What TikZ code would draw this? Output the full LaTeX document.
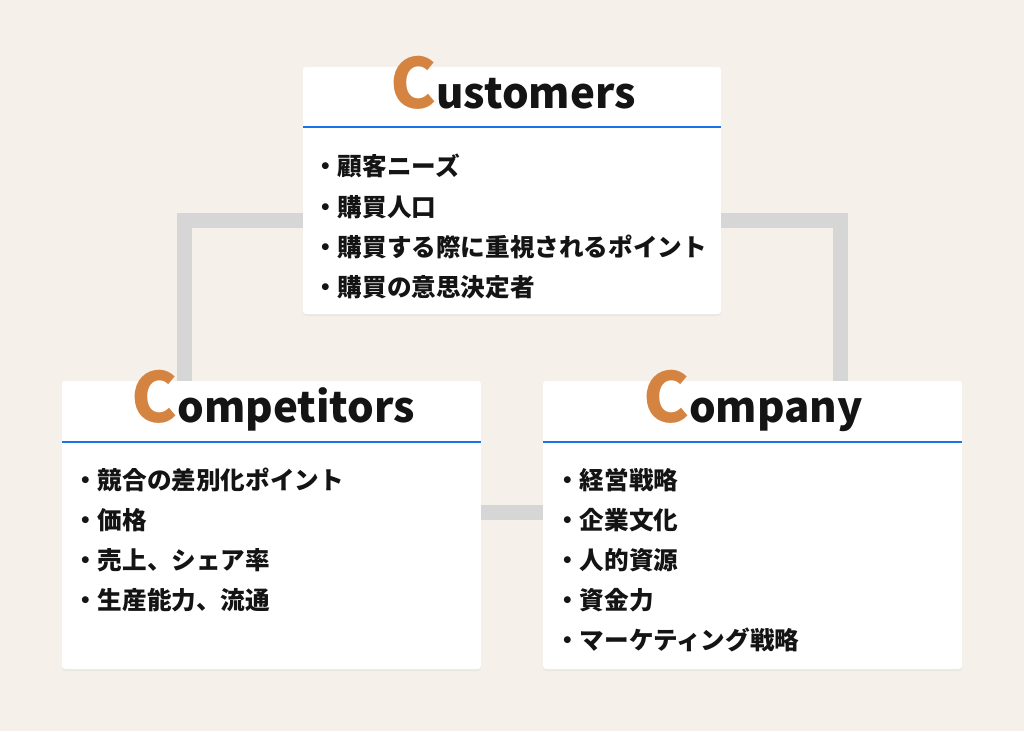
\documentclass[tikz,border=0pt]{standalone}
\usepackage{fontspec}
\newfontfamily\jp{Noto Sans CJK JP}
\usetikzlibrary{shadows}
\definecolor{bg}{RGB}{245,240,234}
\definecolor{linegray}{RGB}{214,214,214}
\definecolor{hblue}{RGB}{26,115,232}
\definecolor{corange}{RGB}{212,132,64}
\definecolor{ink}{RGB}{20,20,20}
\begin{document}
\begin{tikzpicture}[x=1pt,y=-1pt,
  box/.style={fill=white, rounded corners=3pt, inner sep=0pt,
    drop shadow={opacity=0.08, shadow xshift=0pt, shadow yshift=-2pt}},
  conn/.style={draw=linegray, line width=15pt},
  hdr/.style={draw=hblue, line width=2pt},
  ttl/.style={anchor=base, inner sep=0pt, text=ink, font=\jp\bfseries},
  item/.style={anchor=base west, inner sep=0pt, text=ink, font=\jp\bfseries\fontsize{24.6}{24.6}\selectfont}]
\fill[bg] (0,0) rectangle (1024,731);
\useasboundingbox (0,0) rectangle (1024,731);
% boxes
\node[box, minimum width=418pt, minimum height=247pt] (cust) at (512,190.5) {};
\node[box, minimum width=419pt, minimum height=288pt] (compet) at (271.5,525) {};
\node[box, minimum width=419pt, minimum height=288pt] (compan) at (752.5,525) {};
% connectors
\coordinate (lk) at (184,220);
\coordinate (rk) at (840,220);
\coordinate (mk) at (512,512);
\draw[conn] (cust.west |- lk) -| (compet.north -| lk);
\draw[conn] (cust.east |- rk) -| (compan.north -| rk);
\draw[conn] (compet.east |- mk) -- (compan.west |- mk);
% header rules
\draw[hdr] (cust.west |- 0,127) -- (cust.east |- 0,127);
\draw[hdr] (compet.west |- 0,442) -- (compet.east |- 0,442);
\draw[hdr] (compan.west |- 0,442) -- (compan.east |- 0,442);
% titles
\node[ttl] (custT) at (513,108) {\textcolor{corange}{\fontsize{69}{69}\selectfont C}\fontsize{42}{42}\selectfont ustomers};
\node[ttl] (competT) at (273,422) {\textcolor{corange}{\fontsize{69}{69}\selectfont C}\fontsize{42}{42}\selectfont ompetitors};
\node[ttl] (companT) at (753,422) {\textcolor{corange}{\fontsize{69}{69}\selectfont C}\fontsize{42}{42}\selectfont ompany};
% customers items
\node[item] (c1) at (313,175) {・顧客ニーズ};
\node[item] (c2) at (313,216) {・購買人口};
\node[item] (c3) at (313,256) {・購買する際に重視されるポイント};
\node[item] (c4) at (313,296) {・購買の意思決定者};
% competitors items
\node[item] (p1) at (73,489) {・競合の差別化ポイント};
\node[item] (p2) at (73,529) {・価格};
\node[item] (p3) at (73,569) {・売上、シェア率};
\node[item] (p4) at (73,609) {・生産能力、流通};
% company items
\node[item] (m1) at (555,489) {・経営戦略};
\node[item] (m2) at (555,529) {・企業文化};
\node[item] (m3) at (555,569) {・人的資源};
\node[item] (m4) at (555,609) {・資金力};
\node[item] (m5) at (555,649) {・マーケティング戦略};
\end{tikzpicture}
\end{document}
